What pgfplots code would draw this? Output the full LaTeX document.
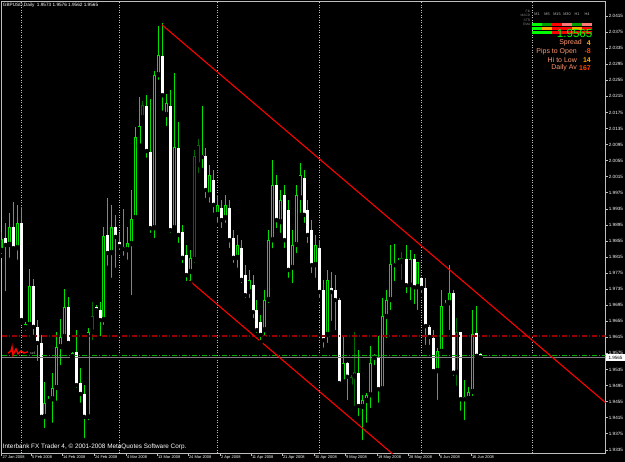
\documentclass[border=0pt]{standalone}
\usepackage{pgfplots}
\pgfplotsset{compat=1.18}
\usepackage{pgfplotstable}
\usepackage{fontspec}
\setmainfont{Liberation Sans}
\definecolor{wick}{RGB}{0,225,0}
\definecolor{dkg}{RGB}{0,105,0}
\definecolor{agray}{RGB}{190,190,190}
\definecolor{dred}{RGB}{150,0,0}
\definecolor{dgreen}{RGB}{0,175,0}
\definecolor{salm}{RGB}{255,150,110}
\definecolor{vorange}{RGB}{255,165,0}
\definecolor{vred}{RGB}{255,70,0}
\definecolor{lime}{RGB}{0,255,0}
\definecolor{lred}{RGB}{255,120,120}
\definecolor{mgreen}{RGB}{0,160,0}
\pgfplotstableread{
x o h l c k
1.7 1.9830 1.9877 1.9818 1.9860 1
5.7 1.9862 1.9900 1.9725 1.9845 0
9.3 1.9845 1.9925 1.9808 1.9890 1
13.3 1.9890 1.9952 1.9832 1.9837 0
17.3 1.9837 1.9945 1.9803 1.9900 1
21.3 1.9900 1.9940 1.9655 1.9658 0
25.3 1.9638 1.9653 1.9626 1.9648 1
29.3 1.9646 1.9785 1.9641 1.9743 1
33.3 1.9743 1.9760 1.9616 1.9641 0
37.3 1.9641 1.9658 1.9551 1.9601 0
41.3 1.9601 1.9621 1.9414 1.9417 0
44.7 1.9417 1.9504 1.9384 1.9452 1
48.7 1.9454 1.9469 1.9449 1.9461 1
52.3 1.9461 1.9527 1.9397 1.9489 1
56.3 1.9489 1.9628 1.9452 1.9591 1
60.3 1.9591 1.9661 1.9541 1.9616 1
64.3 1.9616 1.9735 1.9608 1.9691 1
68.3 1.9691 1.9715 1.9591 1.9601 0
72.3 1.9566 1.9579 1.9564 1.9576 1
76.3 1.9579 1.9633 1.9484 1.9496 0
80.3 1.9501 1.9539 1.9447 1.9474 0
84.0 1.9474 1.9496 1.9359 1.9417 0
88.0 1.9417 1.9638 1.9404 1.9628 1
92.0 1.9628 1.9703 1.9603 1.9668 2
96.0 1.9691 1.9695 1.9678 1.9683 0
100.0 1.9683 1.9703 1.9613 1.9658 0
103.7 1.9658 1.9890 1.9641 1.9867 1
107.7 1.9870 1.9962 1.9788 1.9825 0
111.7 1.9825 1.9945 1.9758 1.9890 1
115.7 1.9890 1.9920 1.9783 1.9865 0
119.3 1.9852 1.9875 1.9827 1.9842 0
123.3 1.9840 1.9935 1.9813 1.9835 0
127.3 1.9832 1.9890 1.9803 1.9850 1
131.3 1.9847 1.9982 1.9715 1.9910 1
135.3 1.9912 2.0139 1.9907 2.0114 1
139.0 2.0091 2.0213 2.0091 2.0141 1
142.7 2.0161 2.0204 2.0156 2.0194 2
146.7 2.0191 2.0218 2.0057 2.0079 0
150.3 2.0077 2.0208 1.9870 1.9887 0
154.3 1.9887 2.0278 1.9857 2.0268 1
158.3 2.0268 2.0390 2.0251 2.0318 1
162.3 2.0316 2.0398 2.0174 2.0218 0
166.3 2.0169 2.0221 2.0136 2.0199 1
170.3 2.0191 2.0231 1.9870 1.9882 0
174.3 1.9887 2.0273 1.9877 2.0089 1
178.3 2.0086 2.0151 1.9845 1.9870 0
182.3 1.9877 1.9895 1.9795 1.9813 0
186.3 1.9820 1.9845 1.9750 1.9770 0
190.2 1.9778 1.9832 1.9750 1.9813 1
194.1 1.9808 2.0082 1.9795 2.0067 2
198.0 2.0044 2.0109 2.0019 2.0094 2
202.0 2.0069 2.0191 2.0032 2.0064 0
205.9 2.0067 2.0086 1.9957 1.9982 0
209.8 1.9969 2.0044 1.9945 2.0019 1
213.7 2.0007 2.0032 1.9920 1.9945 0
217.7 1.9920 1.9969 1.9895 1.9945 1
221.6 1.9937 1.9957 1.9882 1.9907 0
225.5 1.9912 1.9969 1.9895 1.9945 1
229.4 1.9937 1.9957 1.9832 1.9857 0
233.4 1.9862 1.9882 1.9795 1.9813 0
237.3 1.9813 1.9870 1.9783 1.9845 1
241.2 1.9837 1.9857 1.9745 1.9758 0
245.1 1.9770 1.9795 1.9708 1.9720 0
249.0 1.9728 1.9783 1.9708 1.9758 1
253.0 1.9745 1.9770 1.9658 1.9678 0
256.9 1.9683 1.9708 1.9621 1.9633 0
260.8 1.9653 1.9671 1.9603 1.9621 0
264.7 1.9633 1.9733 1.9613 1.9708 1
268.7 1.9708 1.9882 1.9695 1.9857 1
272.6 1.9857 2.0057 1.9832 1.9994 1
276.5 1.9994 2.0019 1.9882 1.9907 0
280.4 1.9902 1.9982 1.9870 1.9957 1
284.3 1.9969 1.9994 1.9832 1.9857 0
288.3 1.9932 1.9957 1.9758 1.9783 0
292.2 1.9788 1.9882 1.9745 1.9845 1
296.1 1.9845 1.9994 1.9820 1.9969 1
300.0 1.9962 2.0049 1.9920 2.0019 1
304.0 2.0012 2.0032 1.9895 1.9920 0
307.9 1.9932 1.9957 1.9845 1.9870 0
311.8 1.9882 1.9907 1.9770 1.9795 0
315.7 1.9795 1.9870 1.9758 1.9845 1
319.6 1.9837 1.9857 1.9708 1.9728 0
323.6 1.9733 1.9758 1.9584 1.9608 0
327.5 1.9621 1.9783 1.9596 1.9758 1
331.0 1.9738 1.9778 1.9651 1.9728 0
335.0 1.9733 1.9770 1.9628 1.9708 0
339.0 1.9708 1.9713 1.9498 1.9501 0
343.0 1.9504 1.9616 1.9501 1.9551 1
347.0 1.9551 1.9554 1.9454 1.9517 0
351.0 1.9491 1.9521 1.9486 1.9517 2
354.7 1.9517 1.9628 1.9439 1.9529 2
358.7 1.9527 1.9584 1.9414 1.9444 0
362.7 1.9442 1.9471 1.9354 1.9459 1
366.7 1.9457 1.9476 1.9397 1.9471 1
370.3 1.9471 1.9594 1.9434 1.9551 1
374.3 1.9564 1.9574 1.9541 1.9569 1
378.3 1.9566 1.9618 1.9447 1.9486 0
382.3 1.9486 1.9713 1.9486 1.9668 1
386.3 1.9666 1.9733 1.9608 1.9708 1
390.3 1.9708 1.9845 1.9678 1.9798 1
394.3 1.9800 1.9847 1.9750 1.9795 0
398.3 1.9800 1.9813 1.9790 1.9808 1
401.7 1.9803 1.9828 1.9753 1.9813 2
406.0 1.9810 1.9845 1.9720 1.9745 0
410.0 1.9745 1.9832 1.9703 1.9810 1
414.0 1.9810 1.9822 1.9693 1.9740 0
417.7 1.9740 1.9803 1.9678 1.9803 1
421.7 1.9763 1.9765 1.9720 1.9738 0
425.7 1.9738 1.9763 1.9591 1.9643 0
429.3 1.9641 1.9646 1.9591 1.9616 0
433.3 1.9613 1.9633 1.9527 1.9531 0
437.3 1.9531 1.9589 1.9454 1.9581 1
441.3 1.9579 1.9733 1.9576 1.9693 1
445.3 1.9693 1.9708 1.9688 1.9700 1
449.3 1.9700 1.9795 1.9628 1.9725 1
453.3 1.9725 1.9733 1.9514 1.9527 0
456.7 1.9527 1.9663 1.9489 1.9628 2
460.7 1.9628 1.9628 1.9427 1.9461 0
464.7 1.9461 1.9509 1.9404 1.9466 1
468.7 1.9461 1.9491 1.9464 1.9479 1
472.7 1.9479 1.9683 1.9464 1.9623 1
476.7 1.9626 1.9693 1.9566 1.9569 0
480.7 1.9573 1.9576 1.9562 1.9565 0
}\candles
\begin{document}
\begin{tikzpicture}[x=1bp,y=1bp]
\fill[black] (-200,-200) rectangle (900,700);
\begin{axis}[
  name=ax,
  scale only axis, width=604.2bp, height=452bp,
  xmin=1.5, xmax=605.7, ymin=1.93263, ymax=2.04518,
  axis line style={agray, line width=0.8bp},
  ytick pos=right, yticklabel pos=right, xtick pos=bottom,
  tick align=outside, major tick length=2.5bp,
  tick style={agray, line width=0.6bp},
  ytick={1.9335,1.9375,1.9415,1.9455,1.9495,1.9535,1.9575,1.9615,1.9655,1.9695,1.9735,1.9775,1.9815,1.9855,1.9895,1.9935,1.9975,2.0015,2.0055,2.0095,2.0135,2.0175,2.0215,2.0255,2.0295,2.0335,2.0375,2.0415},
  yticklabels={1.9335,1.9375,1.9415,1.9455,1.9495,1.9535,1.9575,1.9615,1.9655,1.9695,1.9735,1.9775,1.9815,1.9855,1.9895,1.9935,1.9975,2.0015,2.0055,2.0095,2.0135,2.0175,2.0215,2.0255,2.0295,2.0335,2.0375,2.0415},
  yticklabel style={font=\fontsize{4.6}{5}\selectfont, text=white, anchor=west, inner sep=0pt, xshift=0.5bp},
  xtick={1.6,31,62,94,126,157,188,220,251,282,314,345,377,408,439,471},
  xticklabels={27 Jan 2008,5 Feb 2008,14 Feb 2008,24 Feb 2008,4 Mar 2008,13 Mar 2008,24 Mar 2008,2 Apr 2008,11 Apr 2008,21 Apr 2008,30 Apr 2008,9 May 2008,19 May 2008,28 May 2008,6 Jun 2008,16 Jun 2008},
  xticklabel style={font=\fontsize{4}{5}\selectfont, text=white, anchor=north west, inner sep=0pt, xshift=0.8bp},
  extra x ticks={21.5,119.3,217.3,319,421.7,532},
  extra x tick labels={},
  extra x tick style={grid=major, major tick length=0pt, major grid style={agray, line width=0.6bp, dash pattern=on 1bp off 1.5bp}},
  clip=true,
]
% wicks
\addplot[only marks, mark=none, forget plot, restrict expr to domain={\thisrow{k}}{-0.5:1.5}, error bars/.cd, y dir=plus, y explicit, error mark=none, error bar style={line width=0.9bp, wick}]
  table[x=x, y=l, y error expr=\thisrow{h}-\thisrow{l}] {\candles};
\addplot[only marks, mark=none, forget plot, restrict expr to domain={\thisrow{k}}{1.5:2.5}, error bars/.cd, y dir=plus, y explicit, error mark=none, error bar style={line width=0.9bp, dkg}]
  table[x=x, y=l, y error expr=\thisrow{h}-\thisrow{l}] {\candles};
% bear bodies (white)
\addplot[only marks, mark=none, forget plot, restrict expr to domain={\thisrow{k}}{-0.5:0.5}, error bars/.cd, y dir=plus, y explicit, error mark=none, error bar style={line width=3bp, white}]
  table[x=x, y expr={min(\thisrow{o},\thisrow{c})}, y error expr={max(abs(\thisrow{o}-\thisrow{c}),0.00022)}] {\candles};
% bull bodies outline
\addplot[only marks, mark=none, forget plot, restrict expr to domain={\thisrow{k}}{0.5:1.5}, error bars/.cd, y dir=plus, y explicit, error mark=none, error bar style={line width=3bp, wick}]
  table[x=x, y expr={min(\thisrow{o},\thisrow{c})}, y error expr={max(abs(\thisrow{o}-\thisrow{c}),0.00022)}] {\candles};
\addplot[only marks, mark=none, forget plot, restrict expr to domain={\thisrow{k}}{1.5:2.5}, error bars/.cd, y dir=plus, y explicit, error mark=none, error bar style={line width=3bp, dkg}]
  table[x=x, y expr={min(\thisrow{o},\thisrow{c})}, y error expr={max(abs(\thisrow{o}-\thisrow{c}),0.00022)}] {\candles};
% hollow interior
\addplot[only marks, mark=none, forget plot, restrict expr to domain={(\thisrow{k}>0.5)*abs(\thisrow{o}-\thisrow{c})}{0.0007:1}, error bars/.cd, y dir=plus, y explicit, error mark=none, error bar style={line width=1.1bp, black}]
  table[x=x, y expr={min(\thisrow{o},\thisrow{c})+0.00025}, y error expr={abs(\thisrow{o}-\thisrow{c})-0.0005}] {\candles};
% horizontal levels
\addplot[forget plot, dred, line width=1.3bp, dash pattern=on 5bp off 2bp on 1bp off 2bp] coordinates {(1.5,1.9618) (605.7,1.9618)};
\addplot[forget plot, dgreen, line width=1bp, dash pattern=on 5bp off 2bp on 1bp off 2bp] coordinates {(1.5,1.9569) (605.7,1.9569)};
\addplot[forget plot, gray, line width=0.8bp] coordinates {(1.5,1.9565) (605.7,1.9565)};
% channel
\addplot[forget plot, red, line width=1.1bp] coordinates {(162,2.0393) (605.7,1.9452)};
\addplot[forget plot, red, line width=1.1bp] coordinates {(189,1.9757) (400,1.9309)};
% trade arrow marker
\addplot[forget plot, red, line width=1.4bp] coordinates {(8,1.9576) (11,1.9581) (12,1.9591) (13,1.9571) (16,1.9586) (18,1.9574) (21,1.9581) (24,1.9576) (28,1.9579)};
\coordinate (SW) at (rel axis cs:0,0);
\end{axis}
\pgfresetboundingbox
\begin{scope}[shift={(SW)}, xshift=-1.5bp, yshift=-8.7bp]
\useasboundingbox (0,0) rectangle (625,462);
% title and footer
\node[anchor=west, text=white, font=\fontsize{4.7}{5}\selectfont, inner sep=0pt] at (2.7,457) {GBPUSD,Daily\ \ 1.9573 1.9576 1.9562 1.9565};
\node[anchor=west, text=white, font=\fontsize{6.4}{7}\selectfont, inner sep=0pt] at (2.7,15) {Interbank FX Trader 4, \textcopyright\ 2001-2008 MetaQuotes Software Corp.};
\node[anchor=west, text=agray, font=\fontsize{3.5}{4}\selectfont, inner sep=0pt] at (30,108.5) {sell};
% current price box
\fill[white] (606,101) rectangle (625,107.8);
\node[text=black, font=\fontsize{4.6}{5}\selectfont, inner sep=0pt] at (615.5,104.4) {1.9565};
% panel header
\foreach \lab [count=\i] in {M1,M5,M15,M30,H1,H4}
  \node[text=agray, font=\fontsize{3.8}{4}\selectfont, inner sep=0pt] at (527+10*\i,448) {\lab};
\node[anchor=east, text=gray, font=\fontsize{3.3}{4}\selectfont, inner sep=0pt] at (530.5,451) {Fib};
\node[anchor=east, text=gray, font=\fontsize{3.3}{4}\selectfont, inner sep=0pt] at (530.5,446.5) {MACD};
\node[anchor=east, text=gray, font=\fontsize{3.3}{4}\selectfont, inner sep=0pt] at (530.5,442) {STR};
\node[anchor=east, text=gray, font=\fontsize{3.3}{4}\selectfont, inner sep=0pt] at (530.5,437.5) {EMA};
% cells
\foreach \col [count=\i] in {lime,mgreen,red,lred,mgreen,lred}
  \fill[\col] (522+10*\i,435.6) rectangle (531.6+10*\i,438.8);
\foreach \col [count=\i] in {lime,vorange,red,red,vorange,red}
  \fill[\col] (522+10*\i,431.6) rectangle (531.6+10*\i,434.8);
\foreach \col [count=\i] in {lime,lime,red,red,red,red}
  \fill[\col] (522+10*\i,427.6) rectangle (531.6+10*\i,430.8);
\node[anchor=east, text=lime, font=\fontsize{11.6}{12}\selectfont, inner sep=0pt] at (592.5,428.4) {1.9565};
\node[anchor=east, text=salm, font=\fontsize{7}{8}\selectfont, inner sep=0pt] at (582,419.1) {Spread};
\node[anchor=east, text=salm, font=\fontsize{7}{8}\selectfont, inner sep=0pt] at (577,410.7) {Pips to Open};
\node[anchor=east, text=salm, font=\fontsize{7}{8}\selectfont, inner sep=0pt] at (577,402.1) {Hi to Low};
\node[anchor=east, text=salm, font=\fontsize{7}{8}\selectfont, inner sep=0pt] at (577,394) {Daily Av};
\node[anchor=east, text=vorange, font=\bfseries\fontsize{7}{8}\selectfont, inner sep=0pt] at (591,419.1) {4};
\node[anchor=east, text=vred, font=\bfseries\fontsize{7}{8}\selectfont, inner sep=0pt] at (591,410.7) {-8};
\node[anchor=east, text=vorange, font=\bfseries\fontsize{7}{8}\selectfont, inner sep=0pt] at (591,402.1) {14};
\node[anchor=east, text=vred, font=\bfseries\fontsize{7}{8}\selectfont, inner sep=0pt] at (591,394) {167};
\end{scope}
\end{tikzpicture}
\end{document}
